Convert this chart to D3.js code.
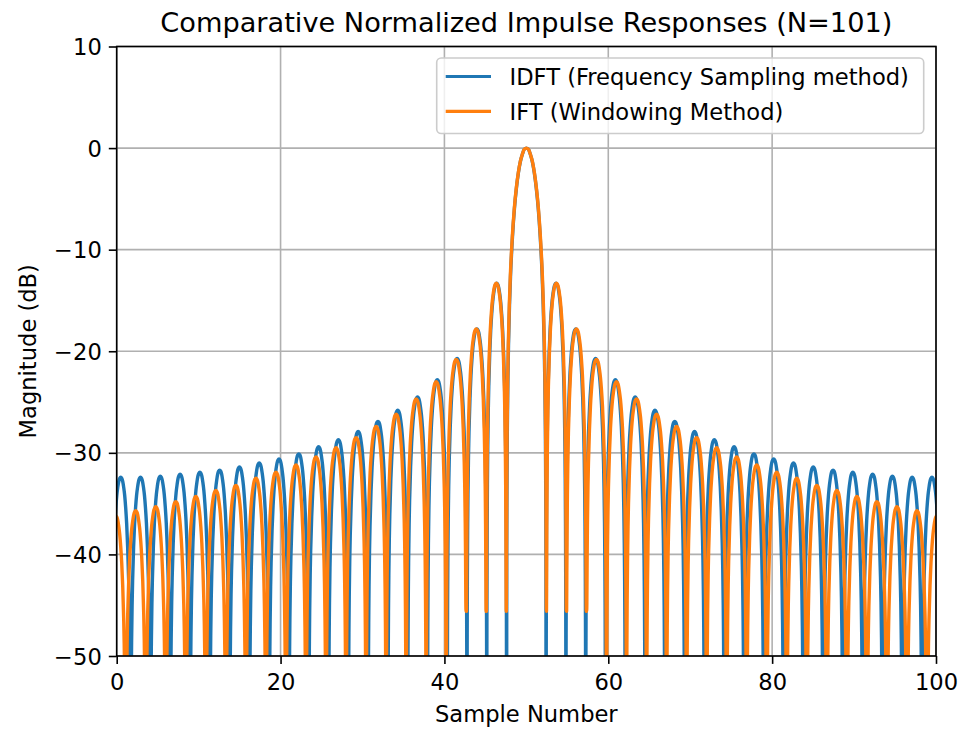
<!DOCTYPE html>
<html><head><meta charset="utf-8">
<script src="https://cdn.jsdelivr.net/npm/d3@7"></script>
<style>
body{margin:0;background:#fff;}
svg{display:block;font-family:"DejaVu Sans",sans-serif;}
</style>
</head><body><svg id="chart" width="967" height="729"></svg>
<script>
// ---------------- data ----------------
const titleText = "Comparative Normalized Impulse Responses (N=101)";
const xLabelText = "Sample Number";
const yLabelText = "Magnitude (dB)";
const seriesNames = ["IDFT (Frequency Sampling method)", "IFT (Windowing Method)"];
const seriesColors = ["#1f77b4", "#ff7f0e"];
const xTicks = [0, 20, 40, 60, 80, 100];
const yTicks = [10, 0, -10, -20, -30, -40, -50];

// IDFT (blue): null positions, lobe peak levels (dB) between consecutive nulls, depth at each null
const idftNulls = [-0.715, 1.70, 4.115, 6.53, 8.945, 11.36, 13.775, 16.19, 18.605, 21.02, 23.435,
  25.85, 28.265, 30.68, 33.095, 35.51, 37.925, 40.34, 42.755, 45.17, 47.585,
  52.415, 54.83, 57.245, 59.66, 62.075, 64.49, 66.905, 69.32, 71.735, 74.15,
  76.565, 78.98, 81.395, 83.81, 86.225, 88.64, 91.055, 93.47, 95.885, 98.30, 100.715];
const idftPeaks = [-32.4, -32.4, -32.3, -32.1, -31.9, -31.7, -31.4, -31.0, -30.6, -30.1,
  -29.4, -28.7, -27.9, -26.9, -25.8, -24.5, -22.8, -20.7, -17.8, -13.3,
  0,
  -13.3, -17.8, -20.7, -22.8, -24.5, -25.8, -26.9, -27.9, -28.7, -29.4,
  -30.1, -30.6, -31.0, -31.4, -31.7, -31.9, -32.1, -32.3, -32.4, -32.4];
const idftNullDepths = [-90, -90, -90, -90, -90, -90, -90, -90, -90, -90, -90,
  -90, -90, -90, -90, -90, -90, -90, -90, -90, -90,
  -90, -90, -90, -90, -90, -90, -90, -90, -90, -90,
  -90, -90, -90, -90, -90, -90, -90, -90, -90, -90, -90];

// IFT (orange)
const iftNulls = [-1.345, 1.10, 3.545, 5.99, 8.435, 10.88, 13.325, 15.77, 18.215, 20.66, 23.105,
  25.55, 27.995, 30.44, 32.885, 35.33, 37.775, 40.22, 42.665, 45.11, 47.555,
  52.445, 54.89, 57.335, 59.78, 62.225, 64.67, 67.115, 69.56, 72.005, 74.45,
  76.895, 79.34, 81.785, 84.23, 86.675, 89.12, 91.565, 94.01, 96.455, 98.90, 101.345];
const iftPeaks = [-36.2, -35.7, -35.3, -34.8, -34.3, -33.7, -33.2, -32.5, -31.9, -31.2,
  -30.4, -29.5, -28.5, -27.4, -26.2, -24.7, -23.0, -20.8, -17.8, -13.3,
  0,
  -13.3, -17.8, -20.8, -23.0, -24.7, -26.2, -27.4, -28.5, -29.5, -30.4,
  -31.2, -31.9, -32.5, -33.2, -33.7, -34.3, -34.8, -35.3, -35.7, -36.2];
const iftNullDepths = [-90, -90, -90, -90, -90, -90, -90, -90, -90, -90, -90,
  -90, -90, -90, -90, -90, -90, -90, -45.6, -45.6, -45.6,
  -45.6, -45.6, -45.6, -90, -90, -90, -90, -90, -90, -90,
  -90, -90, -90, -90, -90, -90, -90, -90, -90, -90, -90];

// lobe shape: dB below the lobe peak at fractions of the lobe width (half lobe)
const lobeFrac = [0, 0.005, 0.01, 0.02, 0.035, 0.05, 0.075, 0.1, 0.15, 0.2, 0.25, 0.3, 0.35, 0.4, 0.45, 0.5];
const sideLobeDb = [-60, -36.1, -30.1, -24.0, -19.2, -16.1, -12.6, -10.2, -6.9, -4.6, -3.0, -1.8, -1.0, -0.4, -0.1, 0];
const mainLobeDb = [-60, -39.9, -33.8, -27.6, -22.5, -19.2, -15.4, -12.6, -8.7, -5.9, -3.9, -2.4, -1.3, -0.6, -0.1, 0];

// ---------------- layout ----------------
const W = 967, H = 729;
const plot = {left: 116.7, right: 936, top: 46.5, bottom: 656};
const svg = d3.select("#chart");

const x = d3.scaleLinear().domain([0, 100]).range([plot.left, plot.right]);
const y = d3.scaleLinear().domain([-50, 10]).range([plot.bottom, plot.top]);

function buildPoints(nulls, peaks, depths) {
  const pts = [];
  const maxPeak = d3.max(peaks);
  for (let i = 0; i < peaks.length; i++) {
    const a = nulls[i], b = nulls[i + 1], w = b - a;
    const prof = peaks[i] === maxPeak ? mainLobeDb : sideLobeDb;
    const half = lobeFrac.map((f, j) => [f, prof[j]]);
    const full = half.concat(half.slice(0, -1).reverse().map(([f, d]) => [1 - f, d]));
    full.forEach(([f, d], j) => {
      if (j === 0 && i > 0) return;
      let v;
      if (f === 0) v = depths[i];
      else if (f === 1) v = depths[i + 1];
      else v = Math.max(peaks[i] + d, f < 0.5 ? depths[i] : depths[i + 1]);
      pts.push([a + f * w, v]);
    });
  }
  return pts;
}

svg.append("rect").attr("width", W).attr("height", H).attr("fill", "#fff");

svg.append("defs").append("clipPath").attr("id", "clip")
  .append("rect").attr("x", plot.left).attr("y", plot.top)
  .attr("width", plot.right - plot.left).attr("height", plot.bottom - plot.top);

// grid
const grid = svg.append("g");
grid.selectAll(".gx").data(xTicks).join("line")
  .attr("x1", d => x(d)).attr("x2", d => x(d)).attr("y1", plot.top).attr("y2", plot.bottom)
  .attr("stroke", "#b0b0b0").attr("stroke-width", 1.6);
grid.selectAll(".gy").data(yTicks).join("line")
  .attr("y1", d => y(d)).attr("y2", d => y(d)).attr("x1", plot.left).attr("x2", plot.right)
  .attr("stroke", "#b0b0b0").attr("stroke-width", 1.6);

// series
const line = d3.line().x(d => x(d[0])).y(d => y(d[1])).curve(d3.curveMonotoneX);
const series = [
  buildPoints(idftNulls, idftPeaks, idftNullDepths),
  buildPoints(iftNulls, iftPeaks, iftNullDepths)
];
const lines = svg.append("g").attr("clip-path", "url(#clip)");
series.forEach((pts, i) => {
  lines.append("path").datum(pts).attr("d", line)
    .attr("fill", "none").attr("stroke", seriesColors[i])
    .attr("stroke-width", 3.4).attr("stroke-linejoin", "round");
});

// axes
const xAxis = d3.axisBottom(x).tickValues(xTicks).tickSize(7.9).tickPadding(7).tickFormat(d3.format("d"));
const yAxis = d3.axisLeft(y).tickValues(yTicks).tickSize(7.9).tickPadding(7)
  .tickFormat(d => (d < 0 ? "\u2212" + Math.abs(d) : String(d)));

const gx = svg.append("g").attr("transform", `translate(0,${plot.bottom})`).call(xAxis);
const gy = svg.append("g").attr("transform", `translate(${plot.left},0)`).call(yAxis);
[gx, gy].forEach(g => {
  g.select(".domain").remove();
  g.selectAll(".tick line").attr("stroke", "#000").attr("stroke-width", 1.6);
  g.selectAll(".tick text").attr("fill", "#000").style("font-size", "22.6px")
    .style("font-family", "DejaVu Sans");
});
gx.selectAll(".tick text").attr("dy", null).attr("y", 34);
gy.selectAll(".tick text").attr("dy", "0.36em");

// spines
svg.append("rect").attr("x", plot.left).attr("y", plot.top)
  .attr("width", plot.right - plot.left).attr("height", plot.bottom - plot.top)
  .attr("fill", "none").attr("stroke", "#000").attr("stroke-width", 1.6);

// title and labels
svg.append("text").attr("x", (plot.left + plot.right) / 2).attr("y", 32)
  .attr("text-anchor", "middle").style("font-size", "27.2px").attr("fill", "#000").text(titleText);
svg.append("text").attr("x", (plot.left + plot.right) / 2).attr("y", 721.5)
  .attr("text-anchor", "middle").style("font-size", "22.6px").attr("fill", "#000").text(xLabelText);
svg.append("text").attr("transform", `translate(36,${(plot.top + plot.bottom) / 2}) rotate(-90)`)
  .attr("text-anchor", "middle").style("font-size", "22.6px").attr("fill", "#000").text(yLabelText);

// legend
const leg = svg.append("g");
leg.append("rect").attr("x", 436.7).attr("y", 58).attr("width", 487).attr("height", 75.5)
  .attr("rx", 4.5).attr("fill", "#fff").attr("fill-opacity", 0.8)
  .attr("stroke", "#cccccc").attr("stroke-width", 1.6);
seriesNames.forEach((name, i) => {
  const cy = 76.5 + i * 34.8;
  leg.append("line").attr("x1", 445.7).attr("x2", 491).attr("y1", cy).attr("y2", cy)
    .attr("stroke", seriesColors[i]).attr("stroke-width", 3.2);
  leg.append("text").attr("x", 509.5).attr("y", cy + 8.3).style("font-size", "22.6px")
    .attr("fill", "#000").text(name);
});
</script>
</body></html>
